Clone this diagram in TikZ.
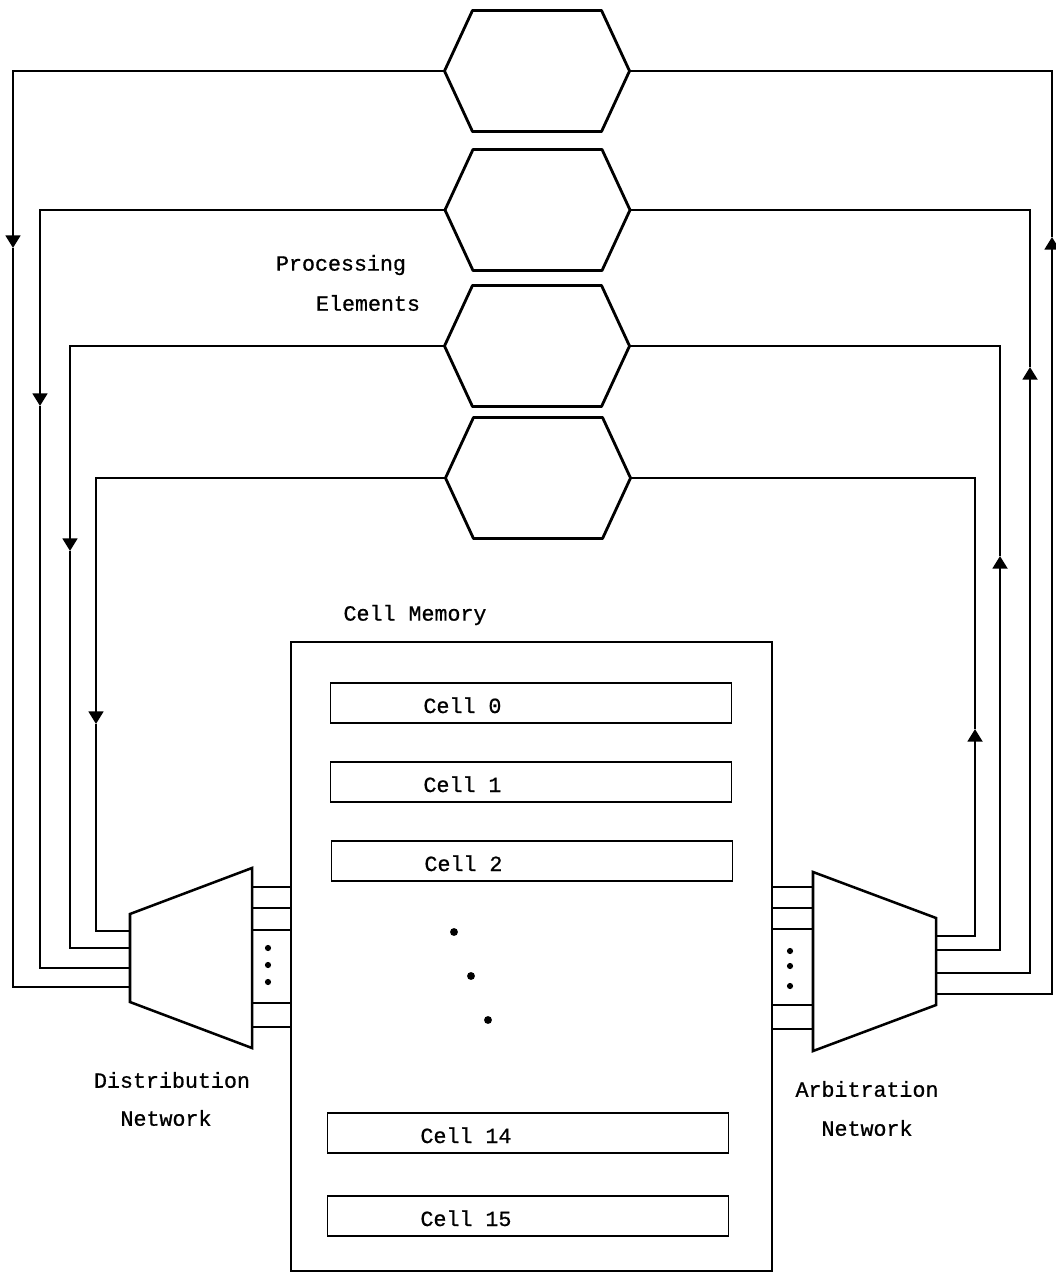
\documentclass[tikz,border=0pt]{standalone}
\usepackage{fontspec}
\newfontfamily\twfont[FakeBold=0.8]{Liberation Mono}
\usetikzlibrary{arrows.meta}
\begin{document}
\begin{tikzpicture}[x=0.025cm,y=-0.025cm,
  wire/.style={line width=1.8pt, line join=miter},
  tipd/.style={-{Triangle[width=10.5pt,length=9pt]}},
  hexline/.style={line width=2pt, line join=round},
  shapebox/.style={inner sep=0pt, outer sep=0pt},
  hexbox/.style={shapebox, minimum width=4.625cm, minimum height=3.025cm},
  lbl/.style={font=\twfont\fontsize{15.4}{18}\selectfont, inner sep=0pt},
  cellbox/.style={draw, line width=1.3pt, minimum height=1cm, inner sep=0pt,
     text height=0.5cm, text depth=0pt,
     font=\twfont\fontsize{15.4}{18}\selectfont}]
\useasboundingbox (0,0) rectangle (1055,1273);

% processing elements
\node[hexbox] (pe1) at (537,71) {};
\node[hexbox] (pe2) at (537.5,210) {};
\node[hexbox] (pe3) at (537,346) {};
\node[hexbox] (pe4) at (538,478) {};
\foreach \n in {pe1,pe2,pe3,pe4}
  \draw[hexline] (\n.west) -- ([xshift=0.7cm]\n.north west) -- ([xshift=-0.7cm]\n.north east)
     -- (\n.east) -- ([xshift=-0.7cm]\n.south east) -- ([xshift=0.7cm]\n.south west) -- cycle;

\node[lbl] (plab1) at (341,265) {Processing};
\node[lbl] (plab2) at (368,303) {Elements};

% cell memory
\node[lbl] (mlab) at (415,615) {Cell Memory};
\node[draw, line width=1.4pt, shapebox, minimum width=12.025cm, minimum height=15.725cm] (mem) at (531.5,956.5) {};
\node[cellbox] (c0) at (531,703) {\makebox[10.025cm][l]{\hspace*{2.325cm}Cell 0}};
\node[cellbox] (c1) at (531,782) {\makebox[10.025cm][l]{\hspace*{2.325cm}Cell 1}};
\node[cellbox] (c2) at (532,861) {\makebox[10.025cm][l]{\hspace*{2.325cm}Cell 2}};
\node[cellbox] (c14) at (528,1133) {\makebox[10.025cm][l]{\hspace*{2.325cm}Cell 14}};
\node[cellbox] (c15) at (528,1216) {\makebox[10.025cm][l]{\hspace*{2.325cm}Cell 15}};
\fill (454,932) circle (2.8pt) (471,976) circle (2.8pt) (488,1020) circle (2.8pt);

% distribution network
\node[shapebox, minimum width=3.05cm, minimum height=4.5cm] (dist) at (191,958) {};
\draw[wire] ([yshift=-1.15cm]dist.north west) -- (dist.north east) -- (dist.south east)
   -- ([yshift=1.15cm]dist.south west) -- cycle;
\node[lbl] (dlab1) at (172,1080) {Distribution};
\node[lbl] (dlab2) at (166,1118) {Network};

% arbitration network
\node[shapebox, minimum width=3.075cm, minimum height=4.475cm] (arb) at (874.5,961.5) {};
\draw[wire] (arb.north west) -- ([yshift=-1.15cm]arb.north east) -- ([yshift=1.15cm]arb.south east)
   -- (arb.south west) -- cycle;
\node[lbl] (alab1) at (867,1089) {Arbitration};
\node[lbl] (alab2) at (867,1128) {Network};

% links between networks and memory
\foreach \y in {887,908,930,1003,1027}
  \draw[wire] (dist.east |- 0,\y) -- (mem.west |- 0,\y);
\foreach \y in {887,908,929,1005,1029}
  \draw[wire] (mem.east |- 0,\y) -- (arb.west |- 0,\y);
\fill (268,948) circle (2.2pt) (268,965) circle (2.2pt) (268,982) circle (2.2pt);
\fill (790,951) circle (2.2pt) (790,966) circle (2.2pt) (790,986) circle (2.2pt);

% left wires (to distribution network)
\coordinate (d1) at (dist.west |- 0,987);
\coordinate (d2) at (dist.west |- 0,968);
\coordinate (d3) at (dist.west |- 0,948);
\coordinate (d4) at (dist.west |- 0,931);
\coordinate (la1) at (13,248);
\coordinate (la2) at (40,406);
\coordinate (la3) at (70,551);
\coordinate (la4) at (96,724);
\draw[wire,tipd] (pe1.west) -| (la1);
\draw[wire] (la1) |- (d1);
\draw[wire,tipd] (pe2.west) -| (la2);
\draw[wire] (la2) |- (d2);
\draw[wire,tipd] (pe3.west) -| (la3);
\draw[wire] (la3) |- (d3);
\draw[wire,tipd] (pe4.west) -| (la4);
\draw[wire] (la4) |- (d4);

% right wires (from arbitration network)
\coordinate (a1) at (arb.east |- 0,994);
\coordinate (a2) at (arb.east |- 0,973);
\coordinate (a3) at (arb.east |- 0,950);
\coordinate (a4) at (arb.east |- 0,936);
\coordinate (ra1) at (1052,237);
\coordinate (ra2) at (1030,367);
\coordinate (ra3) at (1000,556);
\coordinate (ra4) at (975,729);
\draw[wire,tipd] (a1) -| (ra1);
\draw[wire] (ra1) |- (pe1.east);
\draw[wire,tipd] (a2) -| (ra2);
\draw[wire] (ra2) |- (pe2.east);
\draw[wire,tipd] (a3) -| (ra3);
\draw[wire] (ra3) |- (pe3.east);
\draw[wire,tipd] (a4) -| (ra4);
\draw[wire] (ra4) |- (pe4.east);
\end{tikzpicture}
\end{document}
